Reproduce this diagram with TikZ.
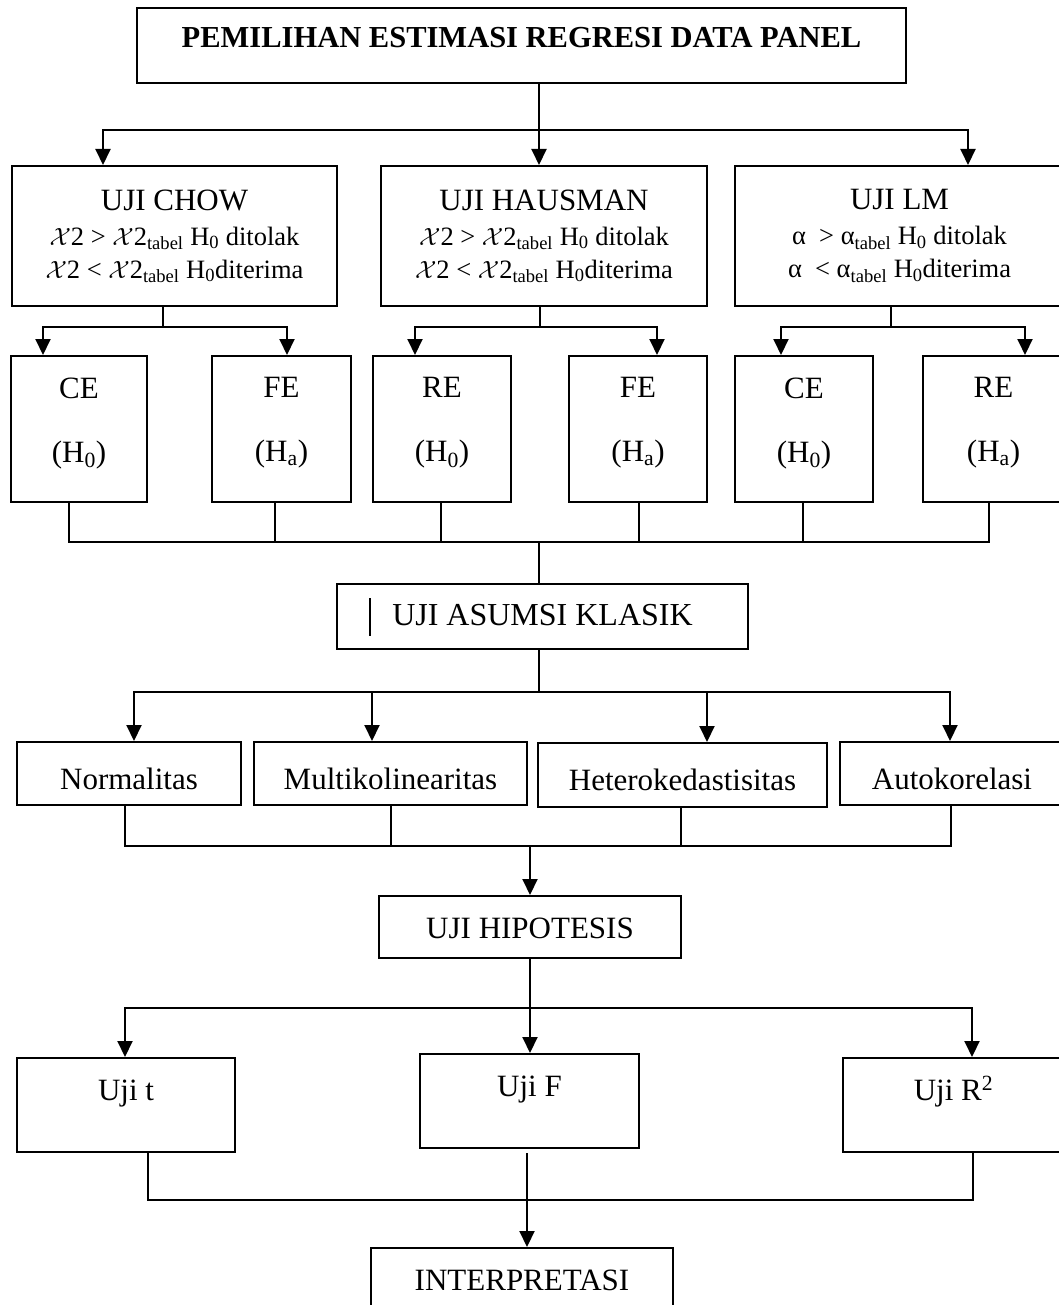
\documentclass[tikz,border=0pt]{standalone}
\usepackage{fontspec}
\setmainfont{Liberation Serif}
\usetikzlibrary{arrows.meta,calc}

\begin{document}
\begin{tikzpicture}[
  x=1pt, y=-1pt,
  box/.style={draw, line width=2pt, inner sep=0pt, align=center,
    font=\fontsize{31}{37}\selectfont},
  titlebox/.style={box, minimum width=769pt, minimum height=75pt,
    font=\fontsize{30.5}{36}\selectfont\bfseries, text height=21pt, text depth=16pt},
  testbox/.style={box, minimum height=140pt, font=\fontsize{26.5}{33}\selectfont},
  estbox/.style={box, minimum width=138pt, minimum height=146pt,
    font=\fontsize{31}{64}\selectfont},
  asmbox/.style={box, minimum height=63pt, text height=31pt, text depth=0pt},
  ujibox/.style={box, minimum height=94pt, text height=21pt, text depth=31pt},
  arr/.style={-{Triangle[width=15pt,length=16pt]}, line width=2pt},
  line/.style={line width=2pt}
]
\useasboundingbox (0,0) rectangle (1058,1305);

% ── title and the three tests ──────────────────────────────────────────
\node[titlebox] (title) at (521.5,45.5) {PEMILIHAN ESTIMASI REGRESI DATA PANEL};

\node[testbox, minimum width=325pt] (chow) at (174.5,236)
  {{\fontsize{31}{31}\selectfont UJI CHOW}\\[2pt]
   $\mathcal{X}$2 > $\mathcal{X}$2\textsubscript{tabel} H\textsubscript{0} ditolak\\
   $\mathcal{X}$2 < $\mathcal{X}$2\textsubscript{tabel} H\textsubscript{0}diterima};
\node[testbox, minimum width=326pt] (haus) at (544,236)
  {{\fontsize{31}{31}\selectfont UJI HAUSMAN}\\[2pt]
   $\mathcal{X}$2 > $\mathcal{X}$2\textsubscript{tabel} H\textsubscript{0} ditolak\\
   $\mathcal{X}$2 < $\mathcal{X}$2\textsubscript{tabel} H\textsubscript{0}diterima};
\node[testbox, minimum width=329pt] (lm) at (899.5,236)
  {{\fontsize{31}{31}\selectfont UJI LM}\\[2pt]
   α~ > α\textsubscript{tabel} H\textsubscript{0} ditolak\\
   α~ < α\textsubscript{tabel} H\textsubscript{0}diterima};

\coordinate (j1) at (539,130);
\draw[line] (title.south -| j1) -- (j1);
\draw[arr] (j1) -| ([xshift=-71.5pt]chow.north);
\draw[arr] (j1) -- ([xshift=-5pt]haus.north);
\draw[arr] (j1) -| ([xshift=68.5pt]lm.north);

% ── estimation models ─────────────────────────────────────────────────
\node[estbox, minimum width=136pt] (ce1) at (79,429)
  {CE\\(H\textsubscript{0})\rule[-18.5pt]{0pt}{18.5pt}};
\node[estbox, minimum width=139pt] (fe1) at (281.5,429)
  {FE\\(H\textsubscript{a})\rule[-18.5pt]{0pt}{18.5pt}};
\node[estbox] (re1) at (442,429)
  {RE\\(H\textsubscript{0})\rule[-18.5pt]{0pt}{18.5pt}};
\node[estbox] (fe2) at (638,429)
  {FE\\(H\textsubscript{a})\rule[-18.5pt]{0pt}{18.5pt}};
\node[estbox] (ce2) at (804,429)
  {CE\\(H\textsubscript{0})\rule[-18.5pt]{0pt}{18.5pt}};
\node[estbox, minimum width=141pt] (re2) at (993.5,429)
  {RE\\(H\textsubscript{a})\rule[-18.5pt]{0pt}{18.5pt}};

\coordinate (jc) at (163,327);
\coordinate (jh) at (540,327);
\coordinate (jl) at (891,327);
\draw[line] (chow.south -| jc) -- (jc);
\draw[line] (haus.south -| jh) -- (jh);
\draw[line] (lm.south -| jl) -- (jl);
\draw[arr] (jc) -| ([xshift=-36pt]ce1.north);
\draw[arr] (jc) -| ([xshift=5.5pt]fe1.north);
\draw[arr] (jh) -| ([xshift=-27pt]re1.north);
\draw[arr] (jh) -| ([xshift=19pt]fe2.north);
\draw[arr] (jl) -| ([xshift=-23pt]ce2.north);
\draw[arr] (jl) -| ([xshift=31.5pt]re2.north);

% ── classical assumptions ─────────────────────────────────────────────
\node[box, minimum width=411pt, minimum height=65pt, text height=21pt, text depth=4pt,
  font=\fontsize{32}{38}\selectfont] (asumsi) at (542.5,616.5) {UJI ASUMSI KLASIK};
\draw[line] ([xshift=34pt,yshift=-15pt]asumsi.north west) -- ++(0,38);

\coordinate (ja) at (539,542);
\draw[line] ([xshift=-10pt]ce1.south) |- (ja);
\draw[line] ([xshift=-6.5pt]fe1.south) |- (ja);
\draw[line] ([xshift=-1pt]re1.south) |- (ja);
\draw[line] ([xshift=1pt]fe2.south) |- (ja);
\draw[line] ([xshift=-1pt]ce2.south) |- (ja);
\draw[line] ([xshift=-4.5pt]re2.south) |- (ja);
\draw[line] (ja) -- (ja |- asumsi.north);

\node[asmbox, minimum width=224pt] (norm) at (129,773.5) {Normalitas};
\node[asmbox, minimum width=273pt] (multi) at (390.5,773.5) {Multikolinearitas};
\node[asmbox, minimum width=289pt, minimum height=64pt] (hetero) at (682.5,775) {Heterokedastisitas};
\node[asmbox, minimum width=224pt] (auto) at (952,773.5) {Autokorelasi};

\coordinate (jk) at (539,692);
\draw[line] (asumsi.south -| jk) -- (jk);
\draw[arr] (jk) -| ([xshift=5pt]norm.north);
\draw[arr] (jk) -| ([xshift=-18.5pt]multi.north);
\draw[arr] (jk) -| ([xshift=24.5pt]hetero.north);
\draw[arr] (jk) -| ([xshift=-2pt]auto.north);

% ── hypothesis tests ──────────────────────────────────────────────────
\node[box, minimum width=302pt, minimum height=62pt, text height=22pt, text depth=0pt]
  (hipo) at (530,927) {UJI HIPOTESIS};

\coordinate (jb) at (530,846);
\draw[line] ([xshift=-4pt]norm.south) |- (jb);
\draw[line] ([xshift=0.5pt]multi.south) |- (jb);
\draw[line] ([xshift=-1.5pt]hetero.south) |- (jb);
\draw[line] ([xshift=-1pt]auto.south) |- (jb);
\draw[arr] (jb) -- (hipo.north);

\node[ujibox, minimum width=218pt] (ujit) at (126,1105) {Uji t};
\node[ujibox, minimum width=219pt] (ujif) at (529.5,1101) {Uji F};
\node[ujibox, minimum width=221pt] (ujir) at (953.5,1105) {Uji R\textsuperscript{2}};

\coordinate (jd) at (530,1008);
\draw[line] (hipo.south) -- (jd);
\draw[arr] (jd) -| ([xshift=-1pt]ujit.north);
\draw[arr] (jd) -- (jd |- ujif.north);
\draw[arr] (jd) -| ([xshift=18.5pt]ujir.north);

% ── interpretation ────────────────────────────────────────────────────
\node[box, minimum width=302pt, minimum height=80pt, text height=21pt, text depth=17pt]
  (interp) at (522,1288) {INTERPRETASI};

\coordinate (je) at (527,1200);
\draw[line] ([xshift=22pt]ujit.south) |- (je);
\draw[line] ([xshift=19.5pt]ujir.south) |- (je);
\draw[arr] ([xshift=-2.5pt,yshift=-4pt]ujif.south) -- ([xshift=5pt]interp.north);

\end{tikzpicture}
\end{document}
